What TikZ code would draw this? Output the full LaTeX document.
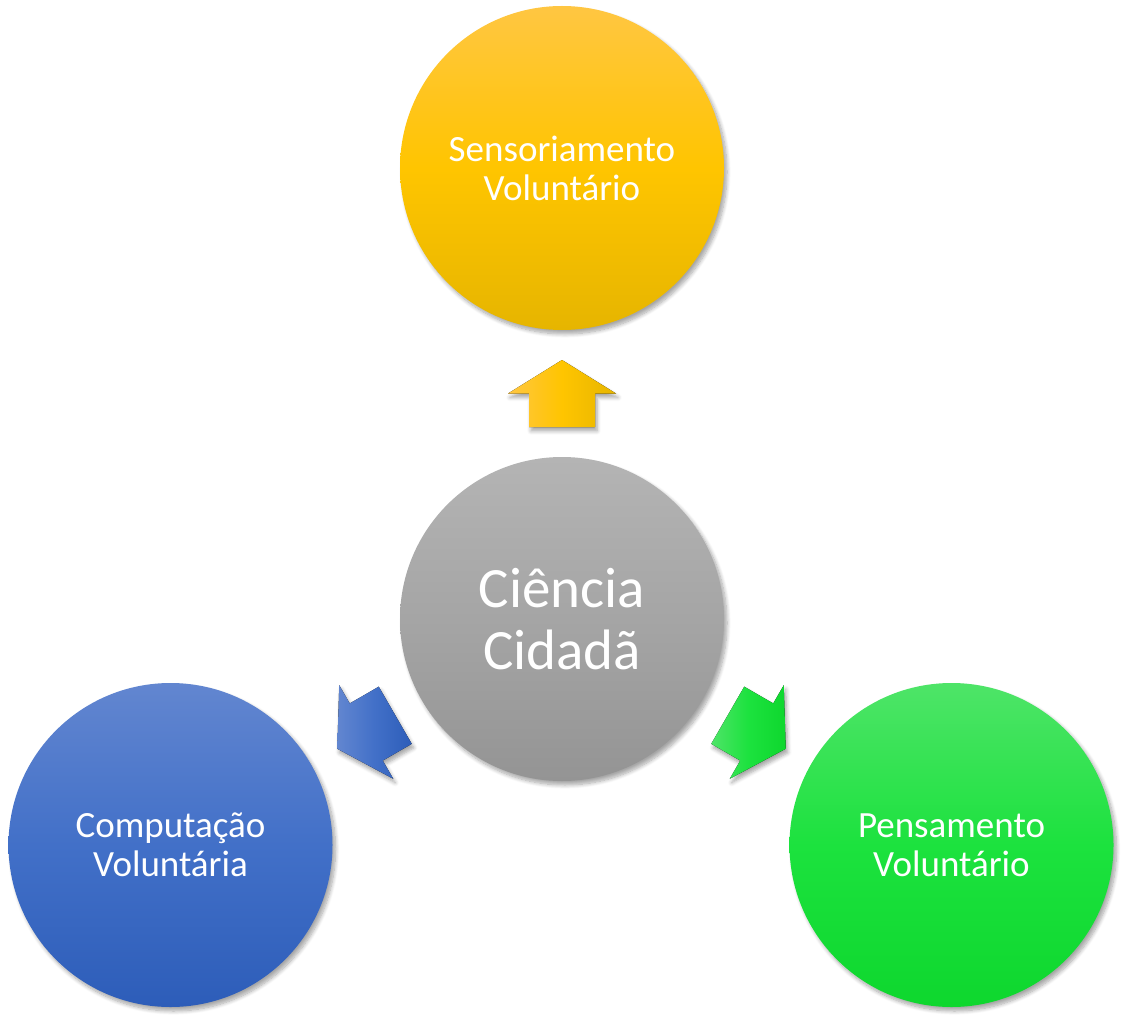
\documentclass[tikz,border=0pt]{standalone}
\usepackage{fontspec}
\setmainfont{Carlito}
\usetikzlibrary{positioning,calc,shadows.blur}
\definecolor{svtop}{RGB}{255,198,66}
\definecolor{svmid}{RGB}{255,197,0}
\definecolor{svbot}{RGB}{230,181,0}
\definecolor{cctop}{RGB}{180,180,180}
\definecolor{ccmid}{RGB}{165,165,165}
\definecolor{ccbot}{RGB}{148,148,148}
\definecolor{cvtop}{RGB}{98,134,208}
\definecolor{cvmid}{RGB}{66,112,200}
\definecolor{cvbot}{RGB}{45,93,185}
\definecolor{pvtop}{RGB}{78,228,104}
\definecolor{pvmid}{RGB}{28,226,62}
\definecolor{pvbot}{RGB}{14,215,46}

\tikzset{
  bubble/.style={circle, minimum size=162pt, inner sep=0pt, align=center, text=white,
    font=\fontsize{18.5}{19.5}\selectfont,
    blur shadow={shadow xshift=1.5pt, shadow yshift=-2pt, shadow blur steps=8, shadow opacity=35}},
  bigbubble/.style={bubble, font=\fontsize{28.5}{31}\selectfont},
  blockarrow/.style={blur shadow={shadow xshift=1pt, shadow yshift=-2pt, shadow blur steps=5, shadow opacity=35}}
}

\begin{document}
\begin{tikzpicture}[x=0.5pt, y=0.5pt]
\useasboundingbox (0,0) rectangle (1122,1019);
% circles
\node[bigbubble, top color=cctop, bottom color=ccbot, middle color=ccmid] (ctr) at (562,400) {Ciência\\Cidadã};
\node[bubble, top color=svtop, bottom color=svbot, middle color=svmid] (sens) at (562,851) {Sensoriamento\\Voluntário};
\node[bubble, top color=cvtop, bottom color=cvbot, middle color=cvmid] (comp) at (170.5,174) {Computação\\Voluntária};
\node[bubble, top color=pvtop, bottom color=pvbot, middle color=pvmid] (pens) at (951.5,174) {Pensamento\\Voluntário};

% arrows between centre and the three circles
\foreach \to/\ang/\lc/\mc/\rc in {sens/90/svtop/svmid/svbot, comp/210/cvtop/cvmid/cvbot, pens/330/pvtop/pvmid/pvbot} {
  \path (ctr) -- (\to) coordinate[pos=0.5] (arr-\to);
  \fill[blockarrow, left color=\lc, right color=\rc, middle color=\mc, shift={(arr-\to)}, rotate=\ang]
    (33.5,0) -- (0,54) -- (0,33) -- (-33.5,33) -- (-33.5,-33) -- (0,-33) -- (0,-54) -- cycle;
}
\end{tikzpicture}
\end{document}
